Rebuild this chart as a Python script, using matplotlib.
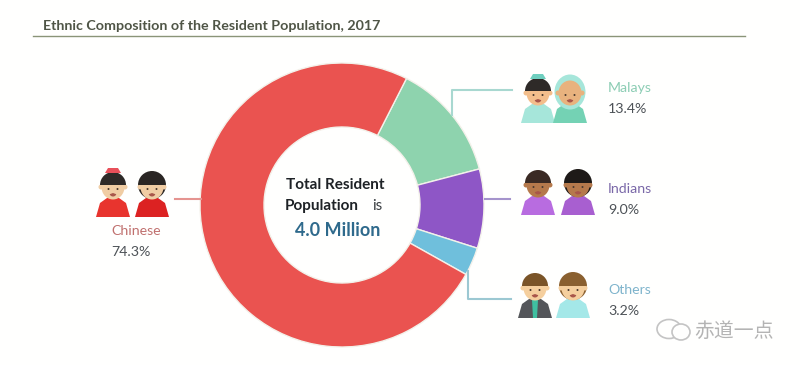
import matplotlib
matplotlib.use("Agg")
import matplotlib.pyplot as plt
from matplotlib.patches import Circle, Ellipse, Polygon, Wedge

plt.rcParams['font.family'] = ['Lato', 'Noto Sans CJK SC', 'DejaVu Sans']

# data
groups = ["Malays", "Indians", "Others", "Chinese"]
shares = [13.4, 9.0, 3.2, 74.3]
colors = ["#8ED3AE", "#8E56C6", "#6FBFDC", "#EA5350"]
label_colors = ["#8CCDB4", "#7A68A8", "#7FB4CC", "#C0706E"]
line_colors = ["#A8D8D0", "#A594CC", "#9CC8D2", "#E59490"]
title = "Ethnic Composition of the Resident Population, 2017"
total_lines = ["Total Resident", "Population", "4.0 Million"]

H = 365
BG = "#FFFFFE"


def py(y):
    # picture coords have y going down
    return H - y


def person(ax, x, y, skin, hair, body, hat=None, long_hair=False, scarf=None, accent=None):
    # x, y = centre of the head in picture coords, body below it
    w = 17
    ax.add_patch(Polygon([(x - w, py(y + 31)), (x - w + 4, py(y + 17)), (x - 6, py(y + 12)),
                          (x + 6, py(y + 12)), (x + w - 4, py(y + 17)), (x + w, py(y + 31))],
                         closed=True, fc=body, ec="none", zorder=3))
    if accent:
        ax.add_patch(Polygon([(x - 3, py(y + 13)), (x + 3, py(y + 13)), (x + 2, py(y + 31)), (x - 2, py(y + 31))],
                             closed=True, fc=accent, ec="none", zorder=4))
    if scarf:
        ax.add_patch(Ellipse((x, py(y)), 31, 35, fc=scarf, ec="none", zorder=3.5))
    if long_hair:
        ax.add_patch(Ellipse((x, py(y - 1)), 28, 28, fc=hair, ec="none", zorder=3.5))
    ax.add_patch(Circle((x - 12, py(y + 1)), 2.5, fc=skin, ec="none", zorder=3.8))
    ax.add_patch(Circle((x + 12, py(y + 1)), 2.5, fc=skin, ec="none", zorder=3.8))
    ax.add_patch(Ellipse((x, py(y + 1)), 23, 25, fc=skin, ec="none", zorder=4))
    if not scarf:
        ax.add_patch(Wedge((x, py(y - 1)), 13, 0, 180, fc=hair, ec="none", zorder=5))
    ax.add_patch(Circle((x - 4.5, py(y + 3)), 1, fc="#4A3A30", ec="none", zorder=6))
    ax.add_patch(Circle((x + 4.5, py(y + 3)), 1, fc="#4A3A30", ec="none", zorder=6))
    ax.add_patch(Wedge((x, py(y + 7)), 3.5, 200, 340, fc="#A8564A", ec="none", zorder=6))
    if hat:
        ax.add_patch(Polygon([(x - 8, py(y - 13)), (x - 5, py(y - 18)), (x + 5, py(y - 18)), (x + 8, py(y - 13))],
                             closed=True, fc=hat, ec="none", zorder=6))


fig = plt.figure(figsize=(8, 3.65), dpi=100, facecolor=BG)
ax = fig.add_axes([0, 0, 1, 1])

# donut, Malays starts about 27 deg right of the top, going clockwise
ax.pie(shares, colors=colors, radius=142, center=(342, py(205)), startangle=63, counterclock=False,
       wedgeprops=dict(width=64, edgecolor="#F3F1EA", linewidth=1.0))

ax.set_xlim(0, 800)
ax.set_ylim(0, H)
ax.set_aspect("auto")
ax.axis("off")

# title
ax.text(43, py(26), title, fontsize=10.3, fontweight="bold", color="#4F5546", va="center", ha="left")
ax.plot([33, 745], [py(36), py(36)], color="#8A9478", lw=1.0)

# text in the hole
ax.text(335, py(185), total_lines[0], fontsize=11, fontweight="bold", color="#1E2226", ha="center", va="center")
ax.text(322, py(206), total_lines[1], fontsize=11, fontweight="bold", color="#1E2226", ha="center", va="center")
ax.text(377, py(206), "is", fontsize=11, color="#3A3E42", ha="center", va="center")
ax.text(338, py(231), total_lines[2], fontsize=13, fontweight="bold", color="#2F6A8C", ha="center", va="center")

# leader lines
ax.plot([452, 452, 512], [py(115), py(90), py(90)], color=line_colors[0], lw=1.5)
ax.plot([485, 510], [py(199), py(199)], color=line_colors[1], lw=1.5)
ax.plot([468, 468, 511], [py(271), py(299), py(299)], color=line_colors[2], lw=1.5)
ax.plot([175, 201], [py(199), py(199)], color=line_colors[3], lw=1.5)

# labels
ax.text(608, py(88), groups[0], fontsize=10.2, color=label_colors[0], va="center")
ax.text(608, py(109), "%.1f%%" % shares[0], fontsize=10.2, color="#4D5257", va="center")
ax.text(608, py(189), groups[1], fontsize=10.2, color=label_colors[1], va="center")
ax.text(608, py(210), "%.1f%%" % shares[1], fontsize=10.2, color="#4D5257", va="center")
ax.text(608, py(290), groups[2], fontsize=10.2, color=label_colors[2], va="center")
ax.text(608, py(311), "%.1f%%" % shares[2], fontsize=10.2, color="#4D5257", va="center")
ax.text(136, py(231), groups[3], fontsize=10.2, color=label_colors[3], ha="center", va="center")
ax.text(131, py(252), "%.1f%%" % shares[3], fontsize=10.2, color="#4D5257", ha="center", va="center")

# people
person(ax, 538, 92, "#F3BE8C", "#2E2A28", "#A6E6DA", hat="#6FCFBF")
person(ax, 570, 92, "#E8B27E", "#A6E6DA", "#74D2B4", scarf="#A6E6DA")
person(ax, 538, 184, "#B5794C", "#3A2A24", "#B86CE0")
person(ax, 578, 184, "#B5794C", "#1E1A18", "#A85FD0", long_hair=True)
person(ax, 535, 287, "#F5CF9E", "#7A5428", "#54565A", accent="#3FBFA0")
person(ax, 573, 287, "#F5CF9E", "#8A6030", "#A4E8E8", long_hair=True)
person(ax, 113, 186, "#F0CDA4", "#2E2A28", "#E8342E", hat="#E8505A")
person(ax, 152, 186, "#F0CDA4", "#2A2624", "#DC2222", long_hair=True)

# watermark
ax.add_patch(Ellipse((669, py(329)), 24, 19, fc="none", ec="#C4C4C4", lw=1.2))
ax.add_patch(Ellipse((681, py(332)), 18, 16, fc=BG, ec="#C4C4C4", lw=1.2))
ax.text(734, py(331), "赤道一点", fontsize=14.3, color="#B4B4B4", ha="center", va="center")

plt.savefig("out.png", dpi=100, facecolor=fig.get_facecolor())
